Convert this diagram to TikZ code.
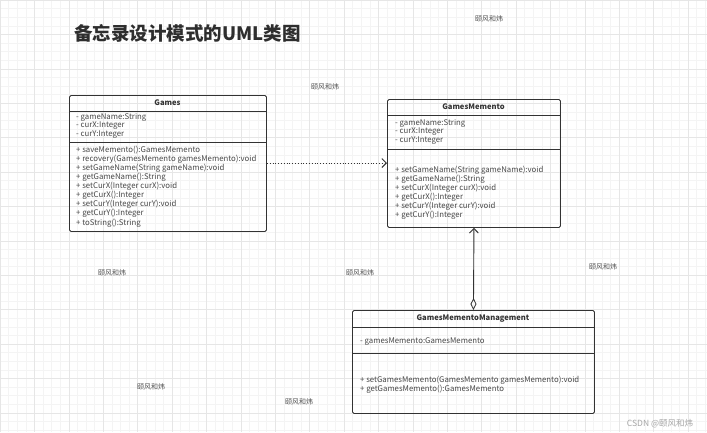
\documentclass[tikz,border=0pt]{standalone}
\usepackage{fontspec}
\setmainfont{Noto Sans CJK SC}
\newfontfamily\cjk{Noto Sans CJK SC}
\usetikzlibrary{arrows.meta}
\definecolor{ink}{HTML}{333333}
\definecolor{gridminor}{HTML}{F4F4F4}
\definecolor{gridmajor}{HTML}{E6E6E6}
\tikzset{
  classbox/.style={draw=ink, line width=0.9pt, rounded corners=1.5pt, rectangle, anchor=north west, inner sep=0pt},
  sepline/.style={draw=ink, line width=0.8pt},
  member/.style={anchor=west, inner sep=0pt, text=ink!90, font=\fontsize{7.8}{8}\selectfont},
  classtitle/.style={inner sep=0pt, text=ink, font=\fontsize{7.6}{8}\selectfont\bfseries},
  wmark/.style={inner sep=0pt, text=ink!85, font=\cjk\fontsize{7}{8}\selectfont},
  conn/.style={draw=ink, line width=0.9pt},
  gminor/.style={draw=gridminor, line width=0.5pt},
  gmajor/.style={draw=gridmajor, line width=0.6pt},
}
\begin{document}
\begin{tikzpicture}[x=1pt,y=-1pt]
\useasboundingbox (0,0) rectangle (707,432);
\fill[white] (0,0) rectangle (707,432);
\foreach \i in {0,...,82} {
  \draw[gminor] (\i*8.6,0) -- (\i*8.6,432);
}
\foreach \i in {0,...,50} {
  \draw[gminor] (0,\i*8.6) -- (707,\i*8.6);
}
\foreach \i in {0,...,20} {
  \draw[gmajor] (\i*34.4,0) -- (\i*34.4,432);
}
\foreach \i in {0,...,12} {
  \draw[gmajor] (0,\i*34.4) -- (707,\i*34.4);
}

% title
\node[anchor=west, inner sep=0pt, text=ink!90!black, font=\cjk\fontsize{18.5}{21}\selectfont\bfseries] (title) at (74,33) {备忘录设计模式的UML类图};

% Games
\node[classbox, minimum width=197, minimum height=136] (games) at (69,95) {};
\draw[sepline] (games.west |- 0,111) -- (games.east |- 0,111);
\draw[sepline] (games.west |- 0,142) -- (games.east |- 0,142);
\node[classtitle] (gt) at (167.5,103) {Games};
\node[member] (ga1) at (76,117) {- gameName:String};
\node[member] (ga2) at (76,126) {- curX:Integer};
\node[member] (ga3) at (76,135) {- curY:Integer};
\node[member] (gm1) at (76,150) {+ saveMemento():GamesMemento};
\node[member] (gm2) at (76,159) {+ recovery(GamesMemento gamesMemento):void};
\node[member] (gm3) at (76,168) {+ setGameName(String gameName):void};
\node[member] (gm4) at (76,177) {+ getGameName():String};
\node[member] (gm5) at (76,186) {+ setCurX(Integer curX):void};
\node[member] (gm6) at (76,195) {+ getCurX():Integer};
\node[member] (gm7) at (76,204) {+ setCurY(Integer curY):void};
\node[member] (gm8) at (76,213) {+ getCurY():Integer};
\node[member] (gm9) at (76,223) {+ toString():String};

% GamesMemento
\node[classbox, minimum width=173, minimum height=128] (memento) at (387,99) {};
\draw[sepline] (memento.west |- 0,115) -- (memento.east |- 0,115);
\draw[sepline] (memento.west |- 0,149) -- (memento.east |- 0,149);
\node[classtitle] (mt) at (473.5,107) {GamesMemento};
\node[member] (ma1) at (395,123) {- gameName:String};
\node[member] (ma2) at (395,132) {- curX:Integer};
\node[member] (ma3) at (395,141) {- curY:Integer};
\node[member] (mm1) at (395,170) {+ setGameName(String gameName):void};
\node[member] (mm2) at (395,179) {+ getGameName():String};
\node[member] (mm3) at (395,188) {+ setCurX(Integer curX):void};
\node[member] (mm4) at (395,197) {+ getCurX():Integer};
\node[member] (mm5) at (395,206) {+ setCurY(Integer curY):void};
\node[member] (mm6) at (395,215) {+ getCurY():Integer};

% GamesMementoManagement
\node[classbox, minimum width=242, minimum height=103] (mgmt) at (352,310) {};
\draw[sepline] (mgmt.west |- 0,327) -- (mgmt.east |- 0,327);
\draw[sepline] (mgmt.west |- 0,353) -- (mgmt.east |- 0,353);
\node[classtitle] (gmt) at (473,319) {GamesMementoManagement};
\node[member] (ka1) at (360,342) {- gamesMemento:GamesMemento};
\node[member] (km1) at (360,380) {+ setGamesMemento(GamesMemento gamesMemento):void};
\node[member] (km2) at (360,389) {+ getGamesMemento():GamesMemento};

% connectors
\draw[conn, line width=0.8pt, dotted, -{Straight Barb[length=4.5pt, width=9pt, line width=0.9pt]}] (games.east |- 0,163) -- (memento.west |- 0,163);
\draw[conn, {Diamond[open, length=12pt, width=6pt, line width=0.8pt]}-{Straight Barb[length=4.5pt, width=9pt, line width=0.9pt]}] (mgmt.north) -- (memento.south);

% watermarks
\node[wmark] (w1) at (489,19) {颐风和炜};
\node[wmark] (w2) at (325,87) {颐风和炜};
\node[wmark] (w3) at (112,273) {颐风和炜};
\node[wmark] (w4) at (360,273) {颐风和炜};
\node[wmark] (w5) at (603,267) {颐风和炜};
\node[wmark] (w6) at (151,387) {颐风和炜};
\node[wmark] (w7) at (299,402) {颐风和炜};
\node[inner sep=0pt, text=gray!70, font=\cjk\fontsize{8.5}{9}\selectfont] (csdn) at (660,424) {CSDN @颐风和炜};
\end{tikzpicture}
\end{document}
